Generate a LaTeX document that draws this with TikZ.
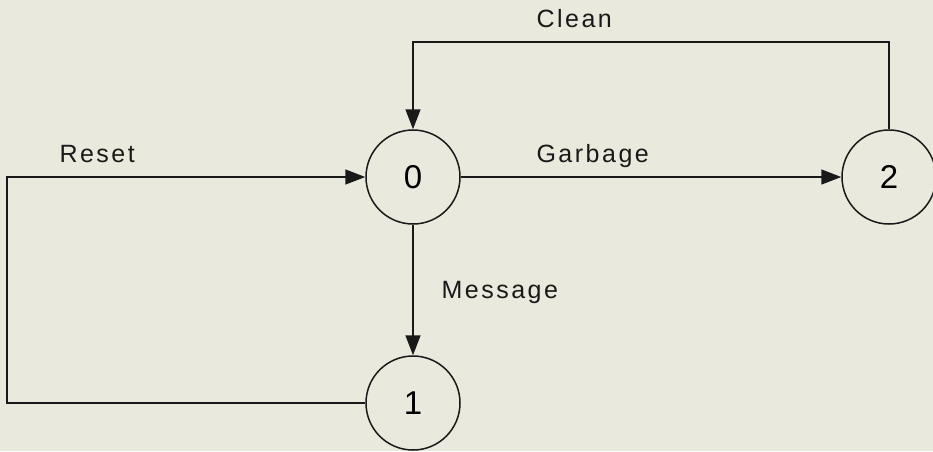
\documentclass[tikz,border=0pt]{standalone}
\usepackage{fontspec}
\setmainfont{Liberation Sans}
\usetikzlibrary{arrows.meta}
\definecolor{paper}{RGB}{234,233,221}
\definecolor{ink}{RGB}{25,25,25}

\begin{document}
\begin{tikzpicture}[
    x=1pt, y=-1pt,
    state/.style={circle, draw=ink, line width=1.5pt, minimum size=94pt, inner sep=0pt, font=\fontsize{33}{36}\selectfont},
    edge/.style={-{Triangle[length=20pt,width=15pt]}, draw=ink, line width=1.5pt},
    lbl/.style={anchor=base west, text=ink, font=\fontsize{25}{30}\selectfont\addfontfeatures{LetterSpace=10}}
]
    % Page
    \fill[paper] (0,0) rectangle (933,451);
    \useasboundingbox (0,0) rectangle (933,451);

    % States
    \node[state] (s0) at (413,177) {0};
    \node[state] (s1) at (413,403) {1};
    \node[state] (s2) at (889,177) {2};

    % Corners of the return paths
    \coordinate (cleanR) at (889,42);
    \coordinate (cleanL) at (413,42);
    \coordinate (resetB) at (7,403);
    \coordinate (resetT) at (7,177);

    % Transitions
    \draw[edge] (s0.east) -- (s2.west);
    \draw[edge] (s0.south) -- (s1.north);
    \draw[edge] (s2.north) -- (cleanR) -- (cleanL) -- (s0.north);
    \draw[edge] (s1.west) -- (resetB) -- (resetT) -- (s0.west);

    % Labels
    \node[lbl] (lclean) at (533,27) {Clean};
    \node[lbl] (lreset) at (56,162) {Reset};
    \node[lbl] (lgarb) at (533,162) {Garbage};
    \node[lbl] (lmsg) at (438,298) {Message};
\end{tikzpicture}
\end{document}
